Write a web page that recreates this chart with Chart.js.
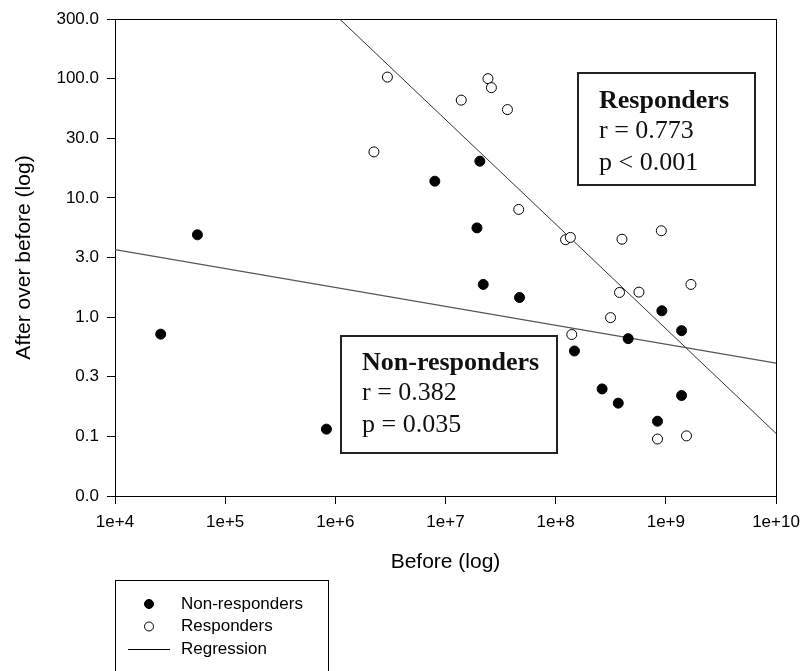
<!DOCTYPE html>
<html>
<head>
<meta charset="utf-8">
<script src="https://cdn.jsdelivr.net/npm/chart.js@4.4.1/dist/chart.umd.min.js"></script>
<style>
  html, body { margin: 0; padding: 0; background: #fff; }
  #wrap { width: 802px; height: 671px; }
</style>
</head>
<body>
<div id="wrap"><canvas id="chart"></canvas></div>
<script>
// values (before = x, after/before = y)
const nonRespBefore = [2.6e4, 5.6e4, 8.3e5, 8.0e6, 1.93e7, 2.05e7, 2.2e7, 4.7e7, 1.48e8, 2.64e8, 3.7e8, 4.55e8, 8.4e8, 9.2e8, 1.39e9, 1.39e9];
const nonRespRatio  = [0.72, 4.9, 0.115, 13.8, 5.6, 20.3, 1.88, 1.46, 0.52, 0.25, 0.19, 0.66, 0.134, 1.13, 0.77, 0.22];

const respBefore = [2.97e6, 2.24e6, 2.43e7, 2.61e7, 1.39e7, 3.65e7, 4.62e7, 1.23e8, 1.36e8, 4.0e8, 9.1e8, 3.8e8, 5.7e8, 1.69e9, 3.15e8, 1.40e8, 8.4e8, 1.54e9];
const respRatio  = [103, 24.3, 100, 84, 66, 55, 8.0, 4.46, 4.66, 4.5, 5.3, 1.61, 1.62, 1.88, 0.99, 0.715, 0.095, 0.101];

// regression line end points
const respRegBefore = [1e6, 1e10];
const respRegRatio  = [342, 0.106];
const nonRespRegBefore = [1e4, 1e10];
const nonRespRegRatio  = [3.68, 0.411];

// axis ticks
const xTickValues = [1e4, 1e5, 1e6, 1e7, 1e8, 1e9, 1e10];
const xTickLabels = ["1e+4", "1e+5", "1e+6", "1e+7", "1e+8", "1e+9", "1e+10"];
const yTickValues = [Math.pow(10, -1.5), 0.1, Math.pow(10, -0.5), 1, Math.pow(10, 0.5), 10, Math.pow(10, 1.5), 100, Math.pow(10, 2.5)];
const yTickLabels = ["0.0", "0.1", "0.3", "1.0", "3.0", "10.0", "30.0", "100.0", "300.0"];

const toPoints = (xs, ys) => xs.map((x, i) => ({ x, y: ys[i] }));

Chart.defaults.font.family = 'Arial, "Liberation Sans", sans-serif';
Chart.defaults.color = "#000";

// frame round the plot area
const framePlugin = {
  id: "frame",
  beforeDatasetsDraw(chart) {
    const { ctx, chartArea: a } = chart;
    ctx.save();
    ctx.strokeStyle = "#000";
    ctx.lineWidth = 1;
    ctx.strokeRect(a.left + 0.5, a.top + 0.5, a.right - a.left, a.bottom - a.top);
    ctx.restore();
  }
};

// r / p boxes
const statBoxes = {
  id: "statBoxes",
  afterDraw(chart, args, opts) {
    const ctx = chart.ctx;
    ctx.save();
    for (const b of opts.boxes) {
      ctx.fillStyle = "#fff";
      ctx.fillRect(b.x, b.y, b.w, b.h);
      ctx.strokeStyle = "#222";
      ctx.lineWidth = 2;
      ctx.strokeRect(b.x, b.y, b.w, b.h);
      ctx.fillStyle = "#111";
      ctx.textBaseline = "alphabetic";
      b.lines.forEach(l => {
        ctx.font = (l.bold ? "bold " : "") + '26px "Liberation Serif", "Times New Roman", serif';
        ctx.fillText(l.text, b.textX, l.y);
      });
    }
    ctx.restore();
  }
};

// boxed legend under the plot
const boxLegend = {
  id: "boxLegend",
  afterDraw(chart, args, opts) {
    const ctx = chart.ctx;
    const seen = new Set();
    const items = chart.data.datasets.filter(d => !seen.has(d.label) && seen.add(d.label));
    ctx.save();
    ctx.strokeStyle = "#000";
    ctx.lineWidth = 1;
    ctx.strokeRect(opts.x + 0.5, opts.y + 0.5, opts.w, opts.h);
    ctx.font = '17px Arial, "Liberation Sans", sans-serif';
    ctx.textBaseline = "middle";
    items.forEach((d, i) => {
      const y = opts.y + opts.firstRow + i * opts.rowGap;
      if (d.showLine) {
        ctx.strokeStyle = "#000";
        ctx.beginPath();
        ctx.moveTo(opts.x + 13, y + 0.5);
        ctx.lineTo(opts.x + 55, y + 0.5);
        ctx.stroke();
      } else {
        ctx.beginPath();
        ctx.arc(opts.x + 34, y, d.pointRadius - 0.5, 0, Math.PI * 2);
        ctx.fillStyle = d.backgroundColor;
        ctx.fill();
        ctx.strokeStyle = "#000";
        ctx.stroke();
      }
      ctx.fillStyle = "#000";
      ctx.fillText(d.label, opts.x + 66, y);
    });
    ctx.restore();
  }
};

const ctx = document.getElementById("chart").getContext("2d");
new Chart(ctx, {
  type: "scatter",
  data: {
    datasets: [
      {
        label: "Non-responders",
        data: toPoints(nonRespBefore, nonRespRatio),
        pointRadius: 5,
        backgroundColor: "#000",
        borderColor: "#000",
        borderWidth: 1
      },
      {
        label: "Responders",
        data: toPoints(respBefore, respRatio),
        pointRadius: 5,
        backgroundColor: "#fff",
        borderColor: "#000",
        borderWidth: 1
      },
      {
        label: "Regression",
        data: toPoints(respRegBefore, respRegRatio),
        showLine: true,
        pointRadius: 0,
        borderColor: "#333",
        borderWidth: 1,
        order: 5
      },
      {
        label: "Regression",
        data: toPoints(nonRespRegBefore, nonRespRegRatio),
        showLine: true,
        pointRadius: 0,
        borderColor: "#555",
        borderWidth: 1.3,
        order: 5
      }
    ]
  },
  options: {
    responsive: true,
    maintainAspectRatio: false,
    animation: false,
    layout: { padding: { left: 0, top: 19, right: 26, bottom: 96 } },
    plugins: {
      legend: { display: false },
      tooltip: { enabled: false },
      statBoxes: {
        boxes: [
          { x: 578, y: 73, w: 177, h: 112, textX: 599,
            lines: [{ text: "Responders", bold: true, y: 108 }, { text: "r = 0.773", y: 138 }, { text: "p < 0.001", y: 170 }] },
          { x: 341, y: 336, w: 216, h: 117, textX: 362,
            lines: [{ text: "Non-responders", bold: true, y: 370 }, { text: "r = 0.382", y: 400 }, { text: "p = 0.035", y: 432 }] }
        ]
      },
      boxLegend: { x: 115, y: 580, w: 213, h: 120, firstRow: 24, rowGap: 22.5 }
    },
    scales: {
      x: {
        type: "logarithmic",
        min: 1e4,
        max: 1e10,
        afterBuildTicks: s => { s.ticks = xTickValues.map(v => ({ value: v })); },
        afterFit: s => { s.height = 79; s.paddingLeft = 0; s.paddingRight = 0; },
        ticks: {
          autoSkip: false,
          maxRotation: 0,
          padding: 8,
          font: { size: 17 },
          callback: (v, i) => xTickLabels[i]
        },
        grid: { drawOnChartArea: false, tickLength: 8, color: "#000" },
        border: { color: "#000" },
        title: { display: true, text: "Before (log)", font: { size: 21 }, padding: { top: 0, bottom: 0 } }
      },
      y: {
        type: "logarithmic",
        min: Math.pow(10, -1.5),
        max: Math.pow(10, 2.5),
        afterBuildTicks: s => { s.ticks = yTickValues.map(v => ({ value: v })); },
        afterFit: s => { s.width = 115; },
        ticks: {
          autoSkip: false,
          padding: 8,
          font: { size: 17 },
          callback: (v, i) => yTickLabels[i]
        },
        grid: { drawOnChartArea: false, tickLength: 8, color: "#000" },
        border: { color: "#000" },
        title: { display: true, text: "After over before (log)", font: { size: 21 }, padding: { top: 12, bottom: 0 } }
      }
    }
  },
  plugins: [framePlugin, statBoxes, boxLegend]
});
</script>
</body>
</html>
